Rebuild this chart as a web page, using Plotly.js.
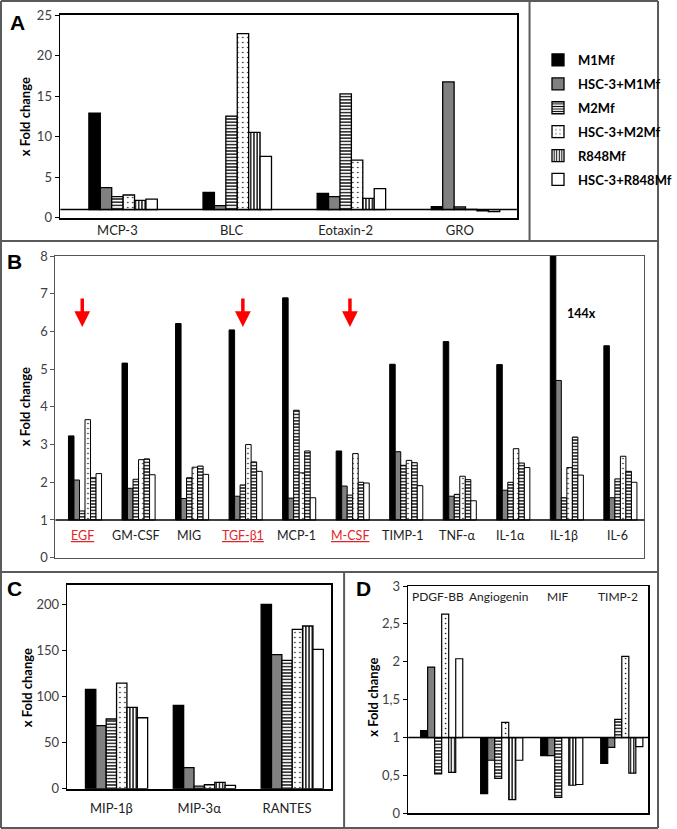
<!DOCTYPE html>
<html><head><meta charset="utf-8">
<script src="https://cdn.plot.ly/plotly-3.0.1.min.js"></script>
<style>body{margin:0;padding:0;background:#fff}#chart{width:677px;height:829px}</style>
</head><body><div id="chart"></div>
<script>
// ---------- DATA ----------
const seriesNames = ['M1Mf','HSC-3+M1Mf','M2Mf','HSC-3+M2Mf','R848Mf','HSC-3+R848Mf'];

// Panel A
const catsA = ['MCP-3','BLC','Eotaxin-2','GRO'];
const aM1Mf      = [12.9, 3.13, 3.0, 1.36];
const aHscM1Mf   = [3.7, 1.5, 2.6, 16.74];
const aM2Mf      = [2.59, 12.54, 15.26, 1.32];
const aHscM2Mf   = [2.8, 22.7, 7.11, 1.03];
const aR848Mf    = [2.14, 10.53, 2.38, 0.86];
const aHscR848Mf = [2.3, 7.57, 3.58, 0.74];

// Panel B
const catsB = ['EGF','GM-CSF','MIG','TGF-β1','MCP-1','M-CSF','TIMP-1','TNF-α','IL-1α','IL-1β','IL-6'];
const redCatsB = ['EGF','TGF-β1','M-CSF'];
const bM1Mf      = [3.23, 5.16, 6.21, 6.04, 6.89, 2.83, 5.13, 5.73, 5.12, 144, 5.62];
const bHscM1Mf   = [2.06, 1.84, 1.57, 1.63, 1.58, 1.90, 2.81, 1.63, 1.79, 4.70, 1.59];
const bM2Mf      = [1.24, 2.08, 2.12, 1.93, 3.91, 1.66, 2.45, 1.68, 2.00, 1.59, 2.09];
const bHscM2Mf   = [3.66, 2.60, 2.40, 3.00, 2.25, 2.76, 2.58, 2.16, 2.89, 2.39, 2.69];
const bR848Mf    = [2.12, 2.62, 2.43, 2.54, 2.83, 2.00, 2.52, 2.07, 2.51, 3.20, 2.29];
const bHscR848Mf = [2.23, 2.20, 2.21, 2.29, 1.59, 1.98, 1.91, 1.51, 2.39, 2.19, 2.00];
const noteB = {cat: 'IL-1β', text: '144x'};

// Panel C
const catsC = ['MIP-1β','MIP-3α','RANTES'];
const cM1Mf      = [107.8, 90.4, 200];
const cHscM1Mf   = [68.4, 22.8, 145.4];
const cM2Mf      = [75.6, 2.9, 139.2];
const cHscM2Mf   = [114.6, 4.3, 172.9];
const cR848Mf    = [88.2, 6.9, 176.5];
const cHscR848Mf = [77.0, 3.6, 151.2];

// Panel D
const catsD = ['PDGF-BB','Angiogenin','MIF','TIMP-2'];
const dM1Mf      = [1.09, 0.26, 0.76, 0.66];
const dHscM1Mf   = [1.93, 0.70, 0.76, 0.87];
const dM2Mf      = [0.52, 0.46, 0.21, 1.24];
const dHscM2Mf   = [2.63, 1.20, 1.00, 2.07];
const dR848Mf    = [0.54, 0.18, 0.37, 0.53];
const dHscR848Mf = [2.04, 0.70, 0.38, 0.88];

// ---------- STYLE ----------
const W = 677, H = 829;
const px = v => v / W;
const py = v => 1 - v / H;
const FONT = 'Lato, "Open Sans", "Liberation Sans", sans-serif';

const styles = [
  {color:'#000000'},
  {color:'#808080'},
  {color:'#ffffff', pattern:{shape:'-', fgcolor:'#000', bgcolor:'#fff', size:3.2, solidity:0.4, fillmode:'replace'}},
  {color:'#ffffff', pattern:{shape:'.', fgcolor:'#000', bgcolor:'#fff', size:5, solidity:0.07, fillmode:'replace'}},
  {color:'#ffffff', pattern:{shape:'|', fgcolor:'#000', bgcolor:'#fff', size:3.2, solidity:0.4, fillmode:'replace'}},
  {color:'#ffffff'}
];

const panels = [
  {x:'x',  y:'y',  cats:catsA, vals:[aM1Mf,aHscM1Mf,aM2Mf,aHscM2Mf,aR848Mf,aHscR848Mf], base:1, bw:0.1,   lw:1.3, legend:true},
  {x:'x2', y:'y2', cats:catsB, vals:[bM1Mf,bHscM1Mf,bM2Mf,bHscM2Mf,bR848Mf,bHscR848Mf], base:1, bw:0.103, lw:1.0, legend:false, r848shape:'-'},
  {x:'x3', y:'y3', cats:catsC, vals:[cM1Mf,cHscM1Mf,cM2Mf,cHscM2Mf,cR848Mf,cHscR848Mf], base:0, bw:0.118, lw:1.3, legend:false},
  {x:'x4', y:'y4', cats:catsD, vals:[dM1Mf,dHscM1Mf,dM2Mf,dHscM2Mf,dR848Mf,dHscR848Mf], base:1, bw:0.117, lw:1.2, legend:false}
];

const traces = [];
panels.forEach(p => {
  p.vals.forEach((v, i) => {
    const st = styles[i];
    const marker = {color: st.color, line:{color:'#000', width:p.lw}};
    if (st.pattern) {
      marker.pattern = Object.assign({}, st.pattern);
      if (i === 4 && p.r848shape) marker.pattern.shape = p.r848shape;
    }
    traces.push({
      type:'bar', name: seriesNames[i], legendgroup: seriesNames[i],
      showlegend: p.legend, xaxis: p.x, yaxis: p.y,
      x: p.cats, y: v.map(d => d - p.base), base: p.base,
      width: p.bw, offset: (i - 2.5) * p.bw,
      marker: marker, hoverinfo:'skip'
    });
  });
});

const tickFont = {family: FONT, size: 13, color:'#404040'};
const catFont = {family: FONT, size: 13, color:'#222'};

const layout = {
  width: W, height: H,
  margin: {l:0, r:0, t:0, b:0},
  paper_bgcolor:'#fff', plot_bgcolor:'#fff',
  barmode:'overlay',
  separators: ',.',
  font: {family: FONT},
  showlegend: true,
  legend: {x: px(553), y: py(45), xanchor:'left', yanchor:'top',
           font:{family: FONT, size: 13, color:'#000', weight:'bold'},
           bgcolor:'rgba(0,0,0,0)', tracegroupgap: 4},
  xaxis: {domain:[px(62), px(531)], anchor:'y', type:'category', showline:true, mirror:true,
          linecolor:'#000', linewidth:1.8, ticks:'', tickfont: catFont, showgrid:false},
  yaxis: {domain:[py(217.7), py(15)], anchor:'x', range:[0,25], dtick:5, ticks:'outside', ticklen:4,
          tickcolor:'#000', showline:true, mirror:true, linecolor:'#000', linewidth:1.8,
          showgrid:false, zeroline:false, tickfont: tickFont},
  xaxis2: {domain:[px(57), px(662)], anchor:'y2', type:'category', showline:true, mirror:true,
           linecolor:'#555', linewidth:1, ticks:'', showticklabels:false, showgrid:false},
  yaxis2: {domain:[py(557.7), py(256)], anchor:'x2', range:[0,8], dtick:1, ticks:'outside', ticklen:4,
           tickcolor:'#555', showline:true, mirror:true, linecolor:'#555', linewidth:1,
           showgrid:false, zeroline:false, tickfont: tickFont},
  xaxis3: {domain:[px(69.3), px(340)], anchor:'y3', type:'category', showline:true, mirror:true,
           linecolor:'#000', linewidth:1.8, ticks:'', tickfont: catFont, showgrid:false, ticklabelstandoff:7},
  yaxis3: {domain:[py(788.7), py(585)], anchor:'x3', range:[0,221], tickvals:[0,50,100,150,200],
           ticks:'outside', ticklen:4, tickcolor:'#000', showline:true, mirror:true, linecolor:'#000',
           linewidth:1.8, showgrid:false, zeroline:false, tickfont: tickFont},
  xaxis4: {domain:[px(419.3), px(666)], anchor:'y4', type:'category', showline:true, mirror:true,
           linecolor:'#000', linewidth:1.5, ticks:'', showticklabels:false, showgrid:false},
  yaxis4: {domain:[py(813.3), py(586)], anchor:'x4', range:[0,3], dtick:0.5, ticks:'outside', ticklen:4,
           tickcolor:'#000', showline:true, mirror:true, linecolor:'#000', linewidth:1.5,
           showgrid:false, zeroline:false, tickfont: tickFont},
  shapes: [], annotations: []
};

// baseline lines at 1
[['x','y'],['x2','y2'],['x4','y4']].forEach(([xa, ya]) => {
  layout.shapes.push({type:'line', xref: xa + ' domain', yref: ya, x0:0, x1:1, y0:1, y1:1,
                      line:{color:'#000', width:1.5}, layer:'above'});
});

// figure frame lines
const frameColor = '#5a5a5a';
const fl = (x0,y0,x1,y1) => layout.shapes.push({type:'line', xref:'paper', yref:'paper',
  x0:px(x0), y0:py(y0), x1:px(x1), y1:py(y1), line:{color:frameColor, width:2}});
fl(1,1,676,1); fl(1,828,676,828); fl(1,1,1,828); fl(676,1,676,828);
fl(1,241,676,241); fl(544,1,544,241); fl(1,572,676,572); fl(353.5,572,353.5,828);

// panel letters
const letter = (t, x, y) => layout.annotations.push({text:'<b>'+t+'</b>', xref:'paper', yref:'paper',
  x:px(x), y:py(y), xanchor:'center', yanchor:'middle', showarrow:false,
  font:{family:'"Liberation Sans", Arial, sans-serif', size:21, color:'#000'}});
letter('A', 18, 22); letter('B', 15, 262); letter('C', 15, 588); letter('D', 373, 588);

// y axis titles
const ytitle = (x, y) => layout.annotations.push({text:'<b>x Fold change</b>', xref:'paper', yref:'paper',
  x:px(x), y:py(y), xanchor:'center', yanchor:'middle', textangle:-90, showarrow:false,
  font:{family: FONT, size:13, color:'#000'}});
ytitle(26, 117); ytitle(26, 407); ytitle(28, 688); ytitle(383, 697);

// panel B category labels inside plot
catsB.forEach(c => {
  const red = redCatsB.includes(c);
  layout.annotations.push({text: red ? '<u>'+c+'</u>' : c, xref:'x2', yref:'y2', x:c, y:0.6,
    showarrow:false, font:{family: FONT, size:12.5, color: red ? '#e0262b' : '#222'}});
});
// red arrows
redCatsB.forEach(c => {
  layout.annotations.push({text:'', xref:'x2', yref:'y2', x:c, y:6.12, ax:0, ay:-30,
    showarrow:true, arrowhead:2, arrowsize:0.9, arrowwidth:3.5, arrowcolor:'#ff0000'});
});
layout.annotations.push({text:'<b>'+noteB.text+'</b>', xref:'x2', yref:'y2', x:noteB.cat, xshift:17, y:6.47,
  showarrow:false, font:{family: FONT, size:12.5, color:'#000'}});

// panel D category labels at top inside plot
catsD.forEach(c => {
  layout.annotations.push({text:c, xref:'x4', yref:'y4', x:c, y:2.86, showarrow:false,
    font:{family: FONT, size:12, color:'#222'}});
});

Plotly.newPlot('chart', traces, layout, {displayModeBar:false, staticPlot:true});
</script>
</body></html>
